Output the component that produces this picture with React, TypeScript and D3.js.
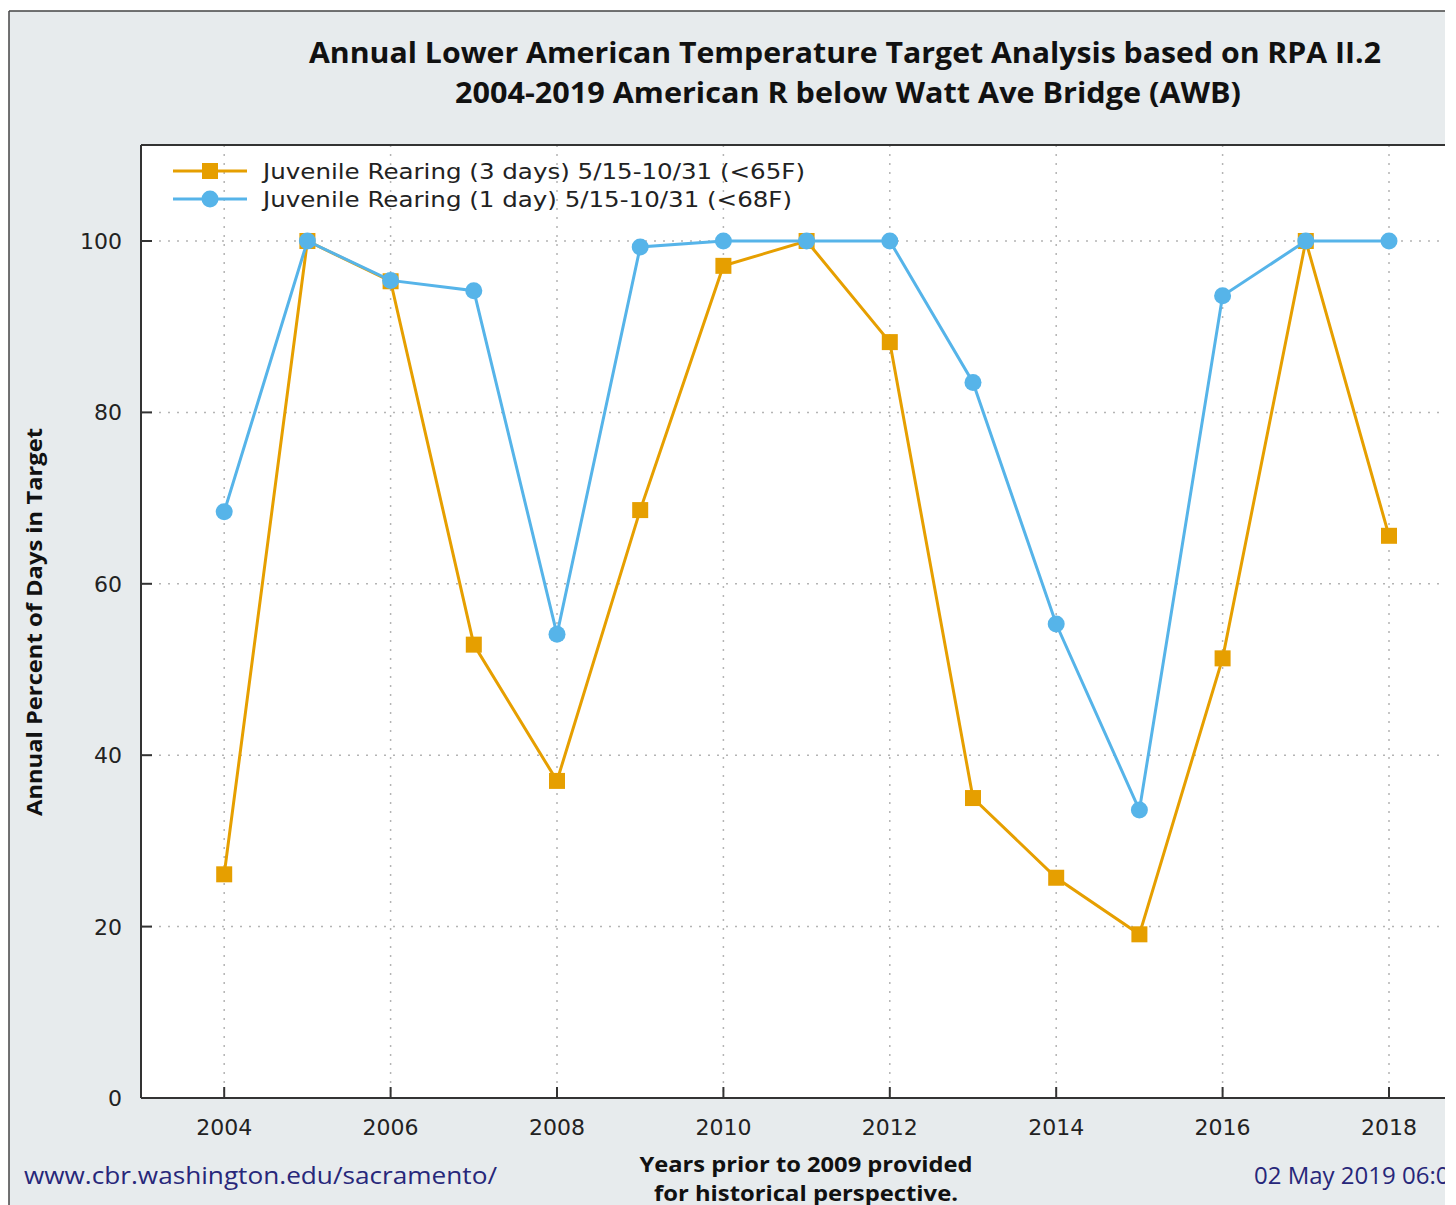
import React from "react";
import * as d3 from "d3";

const years = [2004, 2005, 2006, 2007, 2008, 2009, 2010, 2011, 2012, 2013, 2014, 2015, 2016, 2017, 2018];
const rearing3Day = [26.1, 100, 95.3, 52.9, 37.0, 68.6, 97.1, 100, 88.2, 35.0, 25.7, 19.1, 51.3, 100, 65.6];
const rearing1Day = [68.4, 100, 95.4, 94.2, 54.1, 99.3, 100, 100, 100, 83.5, 55.3, 33.6, 93.6, 100, 100];
const xTicks = [2004, 2006, 2008, 2010, 2012, 2014, 2016, 2018];
const yTicks = [0, 20, 40, 60, 80, 100];
const seriesNames = [
  "Juvenile Rearing (3 days) 5/15-10/31 (<65F)",
  "Juvenile Rearing (1 day) 5/15-10/31 (<68F)",
];
const titleLines = [
  "Annual Lower American Temperature Target Analysis based on RPA II.2",
  "2004-2019 American R below Watt Ave Bridge (AWB)",
];

const ORANGE = "#E69F00";
const BLUE = "#56B4E9";

export default function App() {
  const W = 1456, H = 1205;
  const left = 141, top = 145, bottom = 1098;
  const clipRight = 1445;
  const x = d3.scaleLinear().domain([2003, 2019]).range([left, left + 16 * 83.2]);
  const y = d3.scaleLinear().domain([0, 111.2]).range([bottom, top]);
  const line = d3.line<number>().x((_, i) => x(years[i])).y((v) => y(v));
  const numFont = "DejaVu Sans, sans-serif";
  const boldFont = "Open Sans, sans-serif";

  return (
    <div style={{ position: "absolute", left: 0, top: 0 }}>
      <svg width={W} height={H} style={{ display: "block", background: "#fff" }}>
        <defs>
          <clipPath id="vis">
            <rect x={0} y={0} width={clipRight} height={H} />
          </clipPath>
          <clipPath id="plot">
            <rect x={left} y={top} width={clipRight - left} height={bottom - top} />
          </clipPath>
        </defs>
        <g clipPath="url(#vis)">
          <rect x={9} y={11} width={W} height={H} fill="#e7ebed" />
          <rect x={left} y={top} width={W} height={bottom - top} fill="#fff" />
          {/* gridlines */}
          <g clipPath="url(#plot)">
            {yTicks.filter((t) => t > 0).map((t) => (
              <line key={"gy" + t} x1={left} x2={W} y1={y(t)} y2={y(t)} stroke="#b4b4b4" strokeWidth={1.5} strokeDasharray="2,7" />
            ))}
            {xTicks.map((t) => (
              <line key={"gx" + t} x1={x(t)} x2={x(t)} y1={top} y2={bottom} stroke="#b4b4b4" strokeWidth={1.5} strokeDasharray="2,7" />
            ))}
          </g>
          {/* frame */}
          <line x1={9} x2={W} y1={11} y2={11} stroke="#444" strokeWidth={1.5} />
          <line x1={9} x2={9} y1={11} y2={H} stroke="#444" strokeWidth={1.5} />
          <line x1={left} x2={W} y1={top} y2={top} stroke="#333" strokeWidth={2} />
          <line x1={left} x2={left} y1={top} y2={bottom} stroke="#333" strokeWidth={2} />
          <line x1={left} x2={W} y1={bottom} y2={bottom} stroke="#333" strokeWidth={2} />
          {/* ticks */}
          {yTicks.map((t) => (
            <g key={"ty" + t}>
              <line x1={left} x2={left + 11} y1={y(t)} y2={y(t)} stroke="#333" strokeWidth={2} />
              <text x={122} y={y(t)} dy="0.36em" textAnchor="end" fontFamily={numFont} fontSize={22} fill="#222">{t}</text>
            </g>
          ))}
          {xTicks.map((t) => (
            <g key={"tx" + t}>
              <line x1={x(t)} x2={x(t)} y1={bottom} y2={bottom - 11} stroke="#333" strokeWidth={2} />
              <text x={x(t)} y={1135} textAnchor="middle" fontFamily={numFont} fontSize={22} fill="#222">{t}</text>
            </g>
          ))}
          {/* series */}
          <g clipPath="url(#plot)">
            <path d={line(rearing3Day) || ""} fill="none" stroke={ORANGE} strokeWidth={3} />
            {rearing3Day.map((v, i) => (
              <rect key={"o" + i} x={x(years[i]) - 8} y={y(v) - 8} width={16} height={16} fill={ORANGE} />
            ))}
            <path d={line(rearing1Day) || ""} fill="none" stroke={BLUE} strokeWidth={3} />
            {rearing1Day.map((v, i) => (
              <circle key={"b" + i} cx={x(years[i])} cy={y(v)} r={8.5} fill={BLUE} />
            ))}
          </g>
          {/* legend */}
          {[ORANGE, BLUE].map((c, i) => {
            const ly = 171 + i * 28;
            return (
              <g key={"lg" + i}>
                <line x1={173} x2={247} y1={ly} y2={ly} stroke={c} strokeWidth={3} />
                {i === 0 ? (
                  <rect x={202} y={ly - 8} width={16} height={16} fill={c} />
                ) : (
                  <circle cx={210} cy={ly} r={8.5} fill={c} />
                )}
                <text x={263} y={ly} dy="0.36em" fontFamily={numFont} fontSize={22} fill="#222"
                  textLength={i === 0 ? 542 : 529} lengthAdjust="spacingAndGlyphs">{seriesNames[i]}</text>
              </g>
            );
          })}
          {/* title */}
          <text x={845} y={63} textAnchor="middle" fontFamily={boldFont} fontWeight="bold" fontSize={29} fill="#111"
            textLength={1072} lengthAdjust="spacingAndGlyphs">{titleLines[0]}</text>
          <text x={848} y={103} textAnchor="middle" fontFamily={boldFont} fontWeight="bold" fontSize={29} fill="#111"
            textLength={786} lengthAdjust="spacingAndGlyphs">{titleLines[1]}</text>
          {/* y label */}
          <text transform="translate(42,622) rotate(-90)" textAnchor="middle" fontFamily={boldFont} fontWeight="bold" fontSize={21} fill="#111"
            textLength={388} lengthAdjust="spacingAndGlyphs">Annual Percent of Days in Target</text>
          {/* footer */}
          <text x={24} y={1184} fontFamily={boldFont} fontSize={24} fill="#27277a"
            textLength={473} lengthAdjust="spacingAndGlyphs">www.cbr.washington.edu/sacramento/</text>
          <text x={806} y={1172} textAnchor="middle" fontFamily={boldFont} fontWeight="bold" fontSize={21} fill="#111"
            textLength={333} lengthAdjust="spacingAndGlyphs">Years prior to 2009 provided</text>
          <text x={806} y={1201} textAnchor="middle" fontFamily={boldFont} fontWeight="bold" fontSize={21} fill="#111"
            textLength={304} lengthAdjust="spacingAndGlyphs">for historical perspective.</text>
          <text x={1254} y={1184} fontFamily={boldFont} fontSize={24} fill="#27277a">02 May 2019 06:00</text>
        </g>
      </svg>
    </div>
  );
}
